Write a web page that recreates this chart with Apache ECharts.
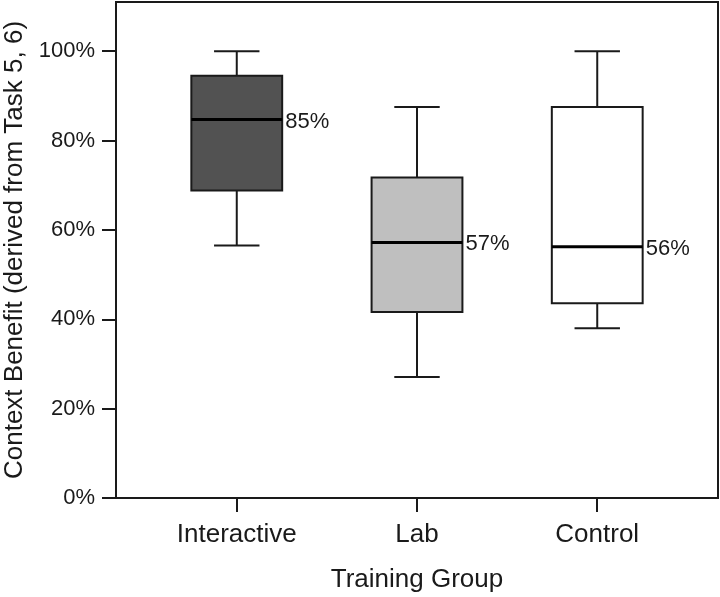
<!DOCTYPE html>
<html>
<head>
<meta charset="utf-8">
<script src="https://cdn.jsdelivr.net/npm/echarts@6/dist/echarts.min.js"></script>
<style>
html,body{margin:0;padding:0;background:#fff;}
#chart{width:720px;height:597px;}
</style>
</head>
<body>
<div id="chart"></div>
<script>
const categories = ['Interactive', 'Lab', 'Control'];
const lowWhisker = [56.5, 27.1, 38.0];
const q1Values = [68.8, 41.6, 43.6];
const medianValues = [84.7, 57.2, 56.2];
const q3Values = [94.5, 71.7, 87.5];
const highWhisker = [100, 87.5, 100];
const yTicks = [0, 20, 40, 60, 80, 100];
const boxFills = ['#525252', '#bfbfbf', '#ffffff'];

const boxData = categories.map((c, i) => [i + 1, lowWhisker[i], q1Values[i], medianValues[i], q3Values[i], highWhisker[i]]);

const FONT = '"Liberation Sans", Arial, Helvetica, sans-serif';
const INK = '#1a1a1a';

const chart = echarts.init(document.getElementById('chart'), null, {renderer: 'canvas'});
chart.setOption({
  animation: false,
  backgroundColor: '#fff',
  grid: {left: 116, right: 2, top: 2, bottom: 99, containLabel: false, outerBoundsMode: 'none',
    show: true, borderColor: INK, borderWidth: 2, backgroundColor: 'transparent'},
  xAxis: {
    type: 'value', min: 0.33, max: 3.67,
    name: 'Training Group', nameLocation: 'middle', nameGap: 69,
    nameTextStyle: {fontFamily: FONT, fontSize: 26, color: INK},
    axisLine: {show: true, lineStyle: {color: INK, width: 2}},
    axisTick: {show: true, length: 14, customValues: [1, 2, 3], lineStyle: {color: INK, width: 2}},
    axisLabel: {customValues: [1, 2, 3], margin: 24, fontFamily: FONT, fontSize: 26, color: INK,
      formatter: v => categories[Math.round(v) - 1] || ''},
    splitLine: {show: false}
  },
  yAxis: {
    type: 'value', min: 0, max: 111,
    name: 'Context Benefit (derived from Task 5, 6)', nameLocation: 'middle', nameGap: 88,
    nameTextStyle: {fontFamily: FONT, fontSize: 26, color: INK},
    axisLine: {show: true, lineStyle: {color: INK, width: 2}},
    axisTick: {show: true, length: 14, customValues: yTicks, lineStyle: {color: INK, width: 2}},
    axisLabel: {customValues: yTicks, margin: 21, fontFamily: FONT, fontSize: 22, color: INK,
      padding: [5, 0, 0, 0],
      formatter: v => v + '%'},
    splitLine: {show: false}
  },
  series: [{
    type: 'custom',
    data: boxData,
    encode: {x: 0, y: [1, 2, 3, 4, 5]},
    renderItem: function (params, api) {
      const x = api.value(0);
      const lo = api.value(1), q1 = api.value(2), med = api.value(3), q3 = api.value(4), hi = api.value(5);
      const bw = 0.252, cw = 0.126;
      const tl = api.coord([x - bw, q3]);
      const br = api.coord([x + bw, q1]);
      const cHi = api.coord([x, hi]);
      const cLo = api.coord([x, lo]);
      const cQ3 = api.coord([x, q3]);
      const cQ1 = api.coord([x, q1]);
      const capHiL = api.coord([x - cw, hi]), capHiR = api.coord([x + cw, hi]);
      const capLoL = api.coord([x - cw, lo]), capLoR = api.coord([x + cw, lo]);
      const mL = api.coord([x - bw, med]), mR = api.coord([x + bw, med]);
      const ls = {stroke: INK, lineWidth: 2};
      return {
        type: 'group',
        children: [
          {type: 'line', shape: {x1: cHi[0], y1: cHi[1], x2: cQ3[0], y2: cQ3[1]}, style: ls},
          {type: 'line', shape: {x1: cLo[0], y1: cLo[1], x2: cQ1[0], y2: cQ1[1]}, style: ls},
          {type: 'line', shape: {x1: capHiL[0], y1: capHiL[1], x2: capHiR[0], y2: capHiR[1]}, style: ls},
          {type: 'line', shape: {x1: capLoL[0], y1: capLoL[1], x2: capLoR[0], y2: capLoR[1]}, style: ls},
          {type: 'rect', shape: {x: tl[0], y: tl[1], width: br[0] - tl[0], height: br[1] - tl[1]},
            style: {fill: boxFills[params.dataIndex], stroke: INK, lineWidth: 2}},
          {type: 'line', shape: {x1: mL[0], y1: mL[1], x2: mR[0], y2: mR[1]}, style: {stroke: '#000', lineWidth: 3}},
          {type: 'text', x: mR[0] + 3, y: mR[1] + 2,
            style: {text: Math.round(med) + '%', fill: INK, font: '22px ' + FONT, textAlign: 'left', textVerticalAlign: 'middle'}}
        ]
      };
    }
  }]
});
</script>
</body>
</html>
